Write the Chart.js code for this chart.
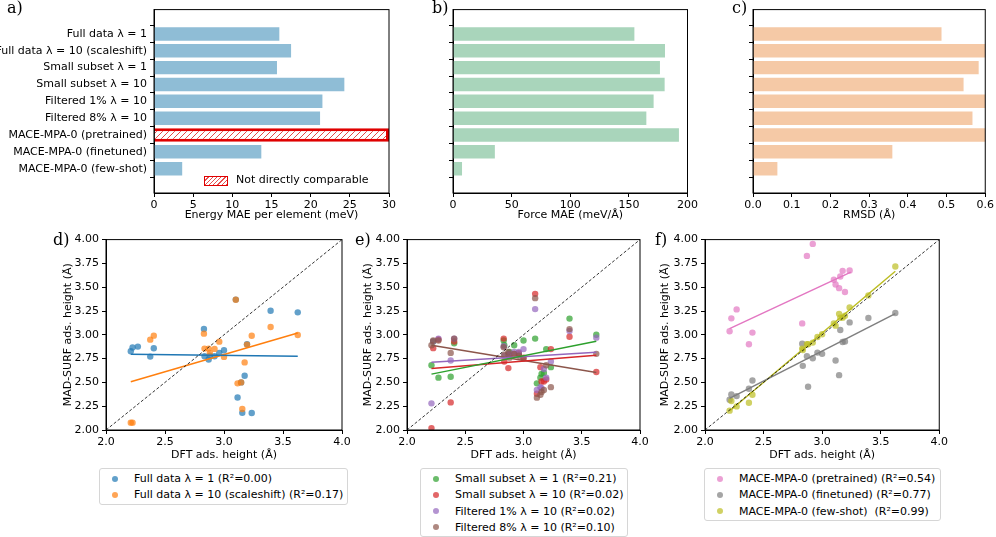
<!DOCTYPE html>
<html>
<head>
<meta charset="utf-8">
<script src="https://cdn.jsdelivr.net/npm/chart.js@4.4.0/dist/chart.umd.min.js"></script>
<style>
  body { margin: 0; width: 996px; height: 537px; background: #fff; position: relative; overflow: hidden; font-family: 'DejaVu Sans'; }
  .box { position: absolute; }
  .panel { position: absolute; font-family: 'DejaVu Serif'; font-size: 16px; line-height: 16px; color: #000; }
  .legend { position: absolute; border: 1px solid #d6d6d6; border-radius: 3px; background: #fff; font-size: 11px; color: #000; }
  .row { position: absolute; left: 0; height: 13px; line-height: 13px; white-space: nowrap; }
  .dot { position: absolute; width: 6px; height: 6px; border-radius: 50%; top: 3.5px; }
  .txt { position: absolute; }
</style>
</head>
<body>

<div class="box" style="left:0;top:0"><canvas id="energy" width="400" height="222"></canvas></div>
<div class="box" style="left:400px;top:0"><canvas id="force" width="300" height="222"></canvas></div>
<div class="box" style="left:700px;top:0"><canvas id="rmsd" width="296" height="222"></canvas></div>
<div class="box" style="left:62px;top:230px"><canvas id="scatD" width="291" height="232"></canvas></div>
<div class="box" style="left:362px;top:230px"><canvas id="scatE" width="291" height="232"></canvas></div>
<div class="box" style="left:659px;top:230px"><canvas id="scatF" width="291" height="232"></canvas></div>

<div class="panel" style="left:7px;top:0px">a)</div>
<div class="panel" style="left:432px;top:0px">b)</div>
<div class="panel" style="left:732px;top:0px">c)</div>
<div class="panel" style="left:53px;top:232px">d)</div>
<div class="panel" style="left:355px;top:232px">e)</div>
<div class="panel" style="left:655px;top:232px">f)</div>

<!-- hatched legend inside panel a -->
<div style="position:absolute;left:204px;top:176px;width:22px;height:8px;border:1px solid #e00000;background:repeating-linear-gradient(135deg,#fff 0 2px,#e85050 2px 3px);"></div>
<div style="position:absolute;left:236px;top:173px;font-size:11px;line-height:13px">Not directly comparable</div>

<div id="legD" class="legend" style="left:99px;top:468px;width:247px;height:35px"></div>
<div id="legE" class="legend" style="left:420px;top:468px;width:206px;height:67px"></div>
<div id="legF" class="legend" style="left:704px;top:468px;width:235px;height:51px"></div>

<script>
// top row: one bar per model
const methods = ['Full data λ = 1', 'Full data λ = 10 (scaleshift)', 'Small subset λ = 1', 'Small subset λ = 10',
  'Filtered 1% λ = 10', 'Filtered 8% λ = 10', 'MACE-MPA-0 (pretrained)', 'MACE-MPA-0 (finetuned)', 'MACE-MPA-0 (few-shot)'];
const energyMae = [16.0, 17.5, 15.7, 24.3, 21.5, 21.2, 30, 13.7, 3.6];
const forceMae = [154.7, 180.8, 176.5, 180.5, 171.1, 164.9, 192.7, 35.7, 7.7];
const rmsdVals = [0.487, 0.62, 0.583, 0.544, 0.62, 0.567, 0.62, 0.360, 0.063];
const energyTicks = [0, 5, 10, 15, 20, 25, 30];
const forceTicks = [0, 50, 100, 150, 200];
const rmsdTicks = [0, 0.1, 0.2, 0.3, 0.4, 0.5, 0.6];

// bottom row: adsorption heights
const heightTicksX = [2.0, 2.5, 3.0, 3.5, 4.0];
const heightTicksY = [2.0, 2.25, 2.5, 2.75, 3.0, 3.25, 3.5, 3.75, 4.0];
const dftHeight = [2.21, 2.225, 2.27, 2.375, 2.405, 2.83, 2.835, 2.87, 2.88, 2.92, 2.96, 3.00, 3.10, 3.115, 3.145, 3.155, 3.175, 3.195, 3.235, 3.395, 3.625];
const fullL1   = [2.827, 2.866, 2.876, 2.771, 2.859, 3.061, 2.775, 2.74, 2.78, 2.775, 2.81, 2.838, 3.37, 2.342, 2.50, 2.18, 2.57, 2.90, 2.178, 3.253, 3.236];
const fullL10  = [2.077, 2.077, null, 2.949, 2.991, 3.012, 2.855, 2.855, 2.81, 2.852, 2.928, 2.768, 3.368, 2.49, 2.50, 2.22, 2.71, 2.897, 2.99, 3.082, 2.998];
const smallL1  = [2.68, 2.93, 2.55, 2.56, 2.91, 2.94, 2.89, 2.79, 2.82, 2.89, 2.80, 2.94, 2.96, 2.49, 2.55, 2.59, 2.60, 2.85, 2.66, 3.17, 3.00];
const smallL10 = [2.02, 2.86, 2.95, 2.29, 2.93, 2.96, 2.72, 2.65, 2.78, 2.80, 2.81, 2.76, 3.43, 2.38, 2.66, 2.51, 2.51, 2.53, 2.85, 2.98, 2.61];
const filt1    = [2.28, 2.93, 2.96, 2.73, 2.96, 2.88, 2.78, 2.80, 2.79, 2.82, 2.82, 2.85, 3.27, 2.42, 2.45, 2.44, 2.64, 2.55, 2.72, 3.04, 2.97];
const filt8    = [2.89, 2.94, 2.94, 2.81, 2.96, 2.87, 2.79, 2.82, 2.76, 2.80, 2.78, 2.75, 3.385, 2.34, 2.37, 2.40, 2.42, 2.68, 2.45, 3.06, 2.80];
const pretrained = [3.037, 3.173, 3.267, 2.90, 3.023, 3.12, null, 3.829, null, 3.955, null, null, 3.578, 3.529, 3.49, 3.613, 3.672, 3.449, 3.675, null, null];
const finetuned  = [2.318, 2.374, 2.356, 2.433, 2.52, 2.907, 2.674, 2.775, 2.454, 2.754, 2.813, 2.80, null, 2.73, 2.576, 3.05, 2.925, 2.93, 3.13, 3.176, 3.229];
const fewShot    = [2.203, 2.304, 2.248, 2.286, 2.370, 2.855, 2.84, 2.90, 2.90, 2.918, 2.977, 3.005, 3.12, 3.096, 3.22, 3.18, 3.18, 3.20, 3.288, 3.414, 3.717];

// fitted line ends [x0, y0, x1, y1]
const fitFullL1 = [2.21, 2.796, 3.625, 2.775];
const fitFullL10 = [2.21, 2.506, 3.625, 3.019];
const fitSmallL1 = [2.21, 2.587, 3.625, 2.932];
const fitSmallL10 = [2.21, 2.646, 3.625, 2.785];
const fitFilt1 = [2.21, 2.712, 3.625, 2.817];
const fitFilt8 = [2.21, 2.89, 3.625, 2.604];
const fitPretrained = [2.21, 3.065, 3.245, 3.658];
const fitFinetuned = [2.21, 2.332, 3.625, 3.222];
const fitFewShot = [2.21, 2.20, 3.625, 3.668];

const tab = { blue: '31,119,180', orange: '255,127,14', green: '44,160,44', red: '214,39,40', purple: '148,103,189',
  brown: '140,86,75', pink: '227,119,194', gray: '127,127,127', olive: '188,189,34' };

Chart.defaults.font.family = 'DejaVu Sans';
Chart.defaults.font.size = 11;
Chart.defaults.color = '#000';

const frame = {
  id: 'frame',
  afterDraw(chart) {
    const { ctx, chartArea: a } = chart;
    ctx.save();
    ctx.strokeStyle = '#000';
    ctx.lineWidth = 1;
    ctx.strokeRect(a.left, a.top, a.width, a.height);
    ctx.restore();
  }
};

function hatchPattern() {
  const c = document.createElement('canvas');
  c.width = 6; c.height = 6;
  const g = c.getContext('2d');
  g.fillStyle = '#fff';
  g.fillRect(0, 0, 6, 6);
  g.strokeStyle = 'rgba(225,40,40,0.85)';
  g.lineWidth = 1;
  g.beginPath();
  g.moveTo(0, 6); g.lineTo(6, 0);
  g.moveTo(-1, 1); g.lineTo(1, -1);
  g.moveTo(5, 7); g.lineTo(7, 5);
  g.stroke();
  return g.createPattern(c, 'repeat');
}

function axisGrid() {
  return { drawOnChartArea: false, drawTicks: true, tickLength: 4, color: '#000', lineWidth: 1 };
}

function barChart(id, values, style, ticksArr, max, title, showLabels, fmt, yWidth, padRight) {
  new Chart(document.getElementById(id), {
    type: 'bar',
    data: {
      datasets: [{
        data: values.map((v, i) => ({ x: v, y: i })),
        backgroundColor: style.bg, borderColor: style.border, borderWidth: style.bw,
        barPercentage: 0.8, categoryPercentage: 1
      }]
    },
    options: {
      indexAxis: 'y', responsive: false, animation: false,
      layout: { padding: { left: 0, top: 3, right: padRight, bottom: 0 } },
      plugins: { legend: { display: false }, tooltip: { enabled: false } },
      scales: {
        x: {
          type: 'linear', min: 0, max: max,
          afterBuildTicks: s => { s.ticks = ticksArr.map(v => ({ value: v })); },
          ticks: { callback: fmt, autoSkip: false, maxRotation: 0, padding: 2 },
          grid: axisGrid(), border: { color: '#000' },
          title: { display: true, text: title, padding: 0 },
          afterFit: s => { s.height = 29; }
        },
        y: {
          type: 'linear', reverse: true, min: -0.84, max: 8.84,
          afterBuildTicks: s => { s.ticks = methods.map((_, i) => ({ value: i })); },
          ticks: { callback: v => showLabels ? methods[v] : '', autoSkip: false, padding: 3 },
          grid: axisGrid(), border: { color: '#000' },
          afterFit: s => { s.width = yWidth; }
        }
      }
    },
    plugins: [frame]
  });
}

const energyStyle = {
  bg: methods.map((m, i) => i === 6 ? hatchPattern() : '#8fbdd6'),
  border: methods.map((m, i) => i === 6 ? '#e00000' : '#8fbdd6'),
  bw: methods.map((m, i) => i === 6 ? 3 : 0)
};
barChart('energy', energyMae, energyStyle, energyTicks, 30, 'Energy MAE per element (meV)', true, v => String(v), 154, 11);
barChart('force', forceMae, { bg: '#a9d5bb', border: '#a9d5bb', bw: 0 }, forceTicks, 200, 'Force MAE (meV/Å)', false, v => String(v), 53, 12);
barChart('rmsd', rmsdVals, { bg: '#f5c9a6', border: '#f5c9a6', bw: 0 }, rmsdTicks, 0.6, 'RMSD (Å)', false, v => v.toFixed(1), 53, 8);

function points(ys) {
  const out = [];
  ys.forEach((y, i) => { if (y !== null) out.push({ x: dftHeight[i], y: y }); });
  return out;
}

function scatterChart(id, series, yWidth, padRight) {
  const datasets = [{
    data: [{ x: 2, y: 2 }, { x: 4, y: 4 }], showLine: true, borderColor: '#000', borderWidth: 0.8,
    borderDash: [3, 2], pointRadius: 0, order: 0
  }];
  series.forEach((s, k) => {
    datasets.push({
      data: [{ x: s.fit[0], y: s.fit[1] }, { x: s.fit[2], y: s.fit[3] }], showLine: true,
      borderColor: 'rgb(' + s.color + ')', borderWidth: 1.5, pointRadius: 0, order: 1
    });
    datasets.push({
      data: points(s.y), pointRadius: 3.2, pointBorderWidth: 0,
      pointBackgroundColor: 'rgba(' + s.color + ',0.7)', borderColor: 'rgba(0,0,0,0)', order: 10 - k
    });
  });
  new Chart(document.getElementById(id), {
    type: 'scatter',
    data: { datasets: datasets },
    options: {
      responsive: false, animation: false,
      layout: { padding: { left: 0, top: 9, right: padRight, bottom: 0 } },
      plugins: { legend: { display: false }, tooltip: { enabled: false } },
      scales: {
        x: {
          type: 'linear', min: 2, max: 4,
          afterBuildTicks: s => { s.ticks = heightTicksX.map(v => ({ value: v })); },
          ticks: { callback: v => v.toFixed(1), autoSkip: false, maxRotation: 0, padding: 2 },
          grid: axisGrid(), border: { color: '#000' },
          title: { display: true, text: 'DFT ads. height (Å)', padding: 0 },
          afterFit: s => { s.height = 32; }
        },
        y: {
          type: 'linear', min: 2, max: 4,
          afterBuildTicks: s => { s.ticks = heightTicksY.map(v => ({ value: v })); },
          ticks: { callback: v => v.toFixed(2), autoSkip: false, padding: 3 },
          grid: axisGrid(), border: { color: '#000' },
          title: { display: true, text: 'MAD-SURF ads. height (Å)', padding: 0 },
          afterFit: s => { s.width = yWidth; }
        }
      }
    },
    plugins: [frame]
  });
}

const seriesD = [
  { name: 'Full data λ = 1 (R²=0.00)', y: fullL1, fit: fitFullL1, color: tab.blue },
  { name: 'Full data λ = 10 (scaleshift) (R²=0.17)', y: fullL10, fit: fitFullL10, color: tab.orange }
];
const seriesE = [
  { name: 'Small subset λ = 1 (R²=0.21)', y: smallL1, fit: fitSmallL1, color: tab.green },
  { name: 'Small subset λ = 10 (R²=0.02)', y: smallL10, fit: fitSmallL10, color: tab.red },
  { name: 'Filtered 1% λ = 10 (R²=0.02)', y: filt1, fit: fitFilt1, color: tab.purple },
  { name: 'Filtered 8% λ = 10 (R²=0.10)', y: filt8, fit: fitFilt8, color: tab.brown }
];
const seriesF = [
  { name: 'MACE-MPA-0 (pretrained) (R²=0.54)', y: pretrained, fit: fitPretrained, color: tab.pink },
  { name: 'MACE-MPA-0 (finetuned) (R²=0.77)', y: finetuned, fit: fitFinetuned, color: tab.gray },
  { name: 'MACE-MPA-0 (few-shot)  (R²=0.99)', y: fewShot, fit: fitFewShot, color: tab.olive }
];

scatterChart('scatD', seriesD, 44, 11);
scatterChart('scatE', seriesE, 45, 13);
scatterChart('scatF', seriesF, 46, 10);

function legend(id, series) {
  const el = document.getElementById(id);
  series.forEach((s, i) => {
    const row = document.createElement('div');
    row.className = 'row';
    row.style.top = (3 + i * 16.3) + 'px';
    row.innerHTML = '<span class="dot" style="left:12px;background:rgba(' + s.color + ',0.7)"></span>' +
      '<span class="txt" style="left:34px">' + s.name.replace(/  /g, '&nbsp; ') + '</span>';
    el.appendChild(row);
  });
}
legend('legD', seriesD);
legend('legE', seriesE);
legend('legF', seriesF);
</script>
</body>
</html>
